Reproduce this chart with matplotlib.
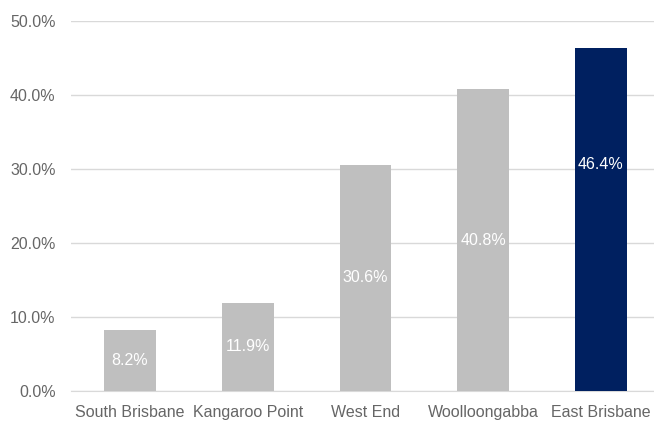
import matplotlib.pyplot as plt
from matplotlib.ticker import FuncFormatter

plt.rcParams['font.family'] = ['Liberation Sans', 'DejaVu Sans']
plt.rcParams['font.size'] = 11.5

suburbs = ['South Brisbane', 'Kangaroo Point', 'West End', 'Woolloongabba', 'East Brisbane']
share = [8.2, 11.9, 30.6, 40.8, 46.4]
colors = ['#bfbfbf', '#bfbfbf', '#bfbfbf', '#bfbfbf', '#002060']
# where the value sits inside each bar, as a fraction of its height
label_frac = [0.5, 0.5, 0.5, 0.5, 0.66]

fig = plt.figure(figsize=(6.54, 4.21), dpi=100)
ax = fig.add_axes([71 / 654, 30 / 421, 1 - 71 / 654, 370 / 421])

x = range(len(suburbs))
bars = ax.bar(x, share, width=0.44, color=colors, zorder=3)

for xi, v, f in zip(x, share, label_frac):
    ax.text(xi, v * f, '%.1f%%' % v, ha='center', va='center',
            color='white', fontsize=11.5, zorder=4)

ax.set_ylim(0, 50)
ax.set_xlim(-0.5, 4.45)
ax.set_yticks([0, 10, 20, 30, 40, 50])
ax.yaxis.set_major_formatter(FuncFormatter(lambda v, p: '%.1f%%' % v))
ax.set_xticks(list(x))
ax.set_xticklabels(suburbs)
ax.grid(axis='y', color='#d9d9d9', linewidth=1, zorder=0)
ax.tick_params(length=0, colors='#666666', labelsize=11.5)
ax.tick_params(axis='x', pad=10)
ax.tick_params(axis='y', pad=11)
for s in ['top', 'right', 'left']:
    ax.spines[s].set_visible(False)
ax.spines['bottom'].set_color('#d9d9d9')

fig.savefig('out.png', dpi=100)
